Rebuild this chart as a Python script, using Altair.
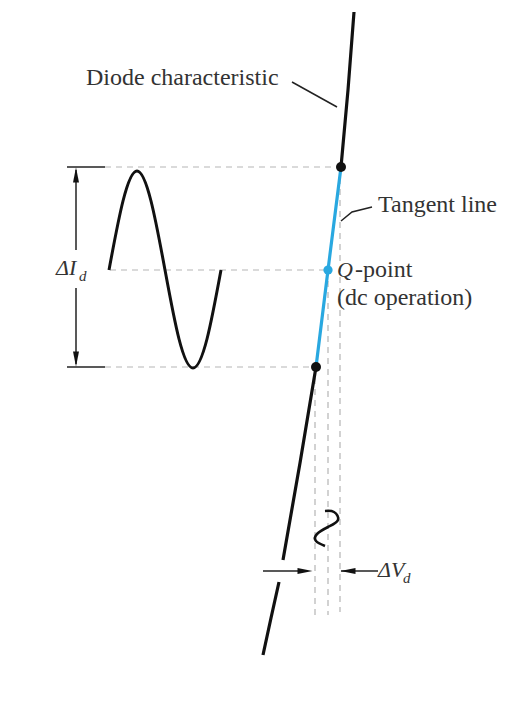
import altair as alt
import pandas as pd

# ---- data (image-pixel coordinates) ----
diode_top_x = [354, 348, 341]
diode_top_y = [12, 90, 167]
diode_mid_x = [316, 300, 283]
diode_mid_y = [367, 463, 560]
diode_low_x = [279, 271, 263]
diode_low_y = [582, 618, 655]

tangent_x = [341, 328, 316]
tangent_y = [167, 270, 367]

sine_x = [109, 123, 137, 151, 165, 179, 193, 207, 221]
sine_y = [270, 201, 171, 201, 270, 339, 368, 339, 270]

wave_x = [325, 334, 338, 328, 317, 316, 325]
wave_y = [511, 512, 520, 527, 534, 541, 546]

black_dot_x = [341, 316]
black_dot_y = [167, 367]
q_x = [328]
q_y = [270]

# dashed guides: (x1, y1, x2, y2)
dash_x1 = [105, 110, 105, 340, 328, 315]
dash_y1 = [167, 270, 367, 167, 270, 367]
dash_x2 = [341, 328, 316, 340, 328, 315]
dash_y2 = [167, 270, 367, 612, 615, 620]

# solid thin lines: caps, dimension arrows, leaders
thin_x1 = [67, 67, 76, 76, 263, 341, 292]
thin_y1 = [167, 367, 170, 288, 571, 571, 82]
thin_x2 = [105, 105, 76, 76, 306, 378, 337]
thin_y2 = [167, 367, 250, 364, 571, 571, 107]

leader_tan_x = [341, 352, 372]
leader_tan_y = [221, 212, 207]

head_x = [76, 76, 305, 348]
head_y = [175, 359, 571, 571]
head_dir = ["up", "down", "right", "left"]

labels = ["Diode characteristic", "Tangent line", "-point", "(dc operation)"]
label_x = [86, 378, 355, 337]
label_y = [78, 205, 270, 298]
ital = ["Q", "ΔI", "ΔV"]
ital_x = [337, 56, 378]
ital_y = [270, 268, 570]
subs = ["d", "d"]
sub_x = [79, 403]
sub_y = [276, 578]

X = alt.Scale(domain=[8, 522])
Y = alt.Scale(domain=[696, 8])
FONT = "Liberation Serif"


def xy(**kw):
    return dict(
        x=alt.X("x:Q", scale=X, axis=None),
        y=alt.Y("y:Q", scale=Y, axis=None),
        **kw,
    )


def path_df(xs, ys, seg):
    return pd.DataFrame({"x": xs, "y": ys, "seg": seg, "o": range(len(xs))})


diode = pd.concat([
    path_df(diode_top_x, diode_top_y, "a"),
    path_df(diode_mid_x, diode_mid_y, "b"),
    path_df(diode_low_x, diode_low_y, "c"),
])

dashes = pd.concat([
    path_df([dash_x1[i], dash_x2[i]], [dash_y1[i], dash_y2[i]], f"d{i}")
    for i in range(len(dash_x1))
])
thins = pd.concat([
    path_df([thin_x1[i], thin_x2[i]], [thin_y1[i], thin_y2[i]], f"t{i}")
    for i in range(len(thin_x1))
] + [path_df(leader_tan_x, leader_tan_y, "lt")])

layers = []
layers.append(alt.Chart(dashes).mark_line(color="#b5b5b5", strokeWidth=1.2, strokeDash=[6, 5]).encode(
    **xy(detail="seg:N", order="o:Q")))
layers.append(alt.Chart(thins).mark_line(color="#222", strokeWidth=1.5).encode(
    **xy(detail="seg:N", order="o:Q")))
layers.append(alt.Chart(diode).mark_line(color="#111", strokeWidth=3.2).encode(
    **xy(detail="seg:N", order="o:Q")))
layers.append(alt.Chart(path_df(tangent_x, tangent_y, "t")).mark_line(color="#29a8e0", strokeWidth=3.2).encode(
    **xy(order="o:Q")))
layers.append(alt.Chart(path_df(sine_x, sine_y, "s")).mark_line(color="#111", strokeWidth=3, interpolate="natural").encode(
    **xy(order="o:Q")))
layers.append(alt.Chart(path_df(wave_x, wave_y, "w")).mark_line(color="#111", strokeWidth=2.6, interpolate="natural").encode(
    **xy(order="o:Q")))
layers.append(alt.Chart(pd.DataFrame({"x": black_dot_x, "y": black_dot_y})).mark_circle(color="#111", size=100, opacity=1).encode(**xy()))
layers.append(alt.Chart(pd.DataFrame({"x": q_x, "y": q_y})).mark_circle(color="#29a8e0", size=85, opacity=1).encode(**xy()))

shapes = {
    "up": "M0,-1L0.4,1L-0.4,1Z",
    "down": "M0,1L0.4,-1L-0.4,-1Z",
    "right": "M1,0L-1,0.4L-1,-0.4Z",
    "left": "M-1,0L1,0.4L1,-0.4Z",
}
heads = pd.DataFrame({"x": head_x, "y": head_y, "d": head_dir})
for d, p in shapes.items():
    layers.append(alt.Chart(heads).transform_filter(alt.datum.d == d).mark_point(
        shape=p, filled=True, color="#111", size=225, opacity=1, strokeWidth=0).encode(**xy()))

layers.append(alt.Chart(pd.DataFrame({"x": label_x, "y": label_y, "t": labels})).mark_text(
    font=FONT, fontSize=24, align="left", baseline="middle", color="#333").encode(**xy(text="t:N")))
layers.append(alt.Chart(pd.DataFrame({"x": ital_x, "y": ital_y, "t": ital})).mark_text(
    font=FONT, fontSize=22, fontStyle="italic", align="left", baseline="middle", color="#333").encode(**xy(text="t:N")))
layers.append(alt.Chart(pd.DataFrame({"x": sub_x, "y": sub_y, "t": subs})).mark_text(
    font=FONT, fontSize=15, fontStyle="italic", align="left", baseline="middle", color="#333").encode(**xy(text="t:N")))

chart = alt.layer(*layers).properties(
    width=514, height=688, autosize="none", padding=0
).configure_view(stroke=None)

chart.save("out.html", embed_options={"renderer": "svg", "actions": False})
